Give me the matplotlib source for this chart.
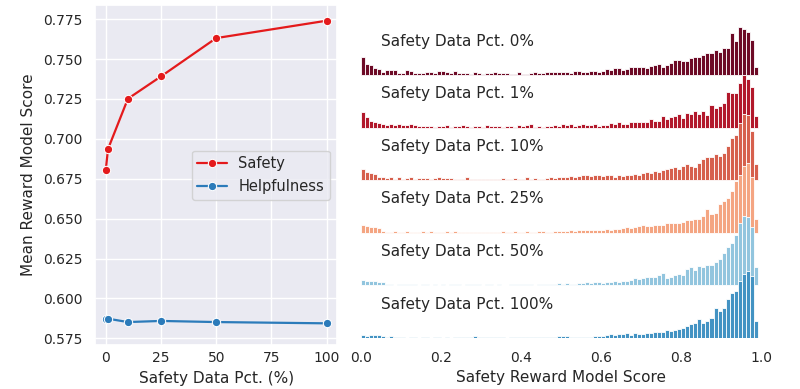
import numpy as np
import matplotlib
matplotlib.use("Agg")
import matplotlib.pyplot as plt
import seaborn as sns

# left panel: mean reward model score vs. amount of safety data
safety_pct = [0, 1, 10, 25, 50, 100]
safety_score = [0.6806, 0.6936, 0.7251, 0.7391, 0.7631, 0.7740]
helpful_score = [0.5873, 0.5873, 0.5852, 0.5859, 0.5852, 0.5844]

# right panel: histogram heights of safety RM score, bins of 0.01 from 0 to 0.99
row_labels = ["Safety Data Pct. 0%", "Safety Data Pct. 1%", "Safety Data Pct. 10%",
              "Safety Data Pct. 25%", "Safety Data Pct. 50%", "Safety Data Pct. 100%"]

hist_0 = [18, 11, 10, 7, 6, 3, 5, 5, 5, 2,
          2, 5, 4, 2, 2, 2, 3, 3, 2, 4,
          4, 3, 2, 4, 2, 2, 2, 1, 3, 2,
          1, 2, 2, 3, 2, 2, 2, 1, 1, 3,
          1, 1, 2, 3, 2, 2, 3, 3, 3, 3,
          3, 3, 2, 4, 4, 3, 3, 4, 4,
          3, 4, 6, 5, 7, 7, 5, 6, 8, 8,
          8, 8, 7, 9, 10, 11, 8, 10, 12, 15,
          15, 14, 14, 17, 18, 18, 20, 22, 22, 25,
          23, 27, 27, 42, 34, 48, 46, 43, 35, 8]
hist_1 = [16, 11, 7, 6, 5, 4, 3, 4, 3, 4,
          3, 3, 4, 3, 2, 2, 2, 2, 1, 2,
          2, 3, 1, 2, 2, 3, 2, 1, 2, 2,
          1, 3, 2, 2, 2, 1, 2, 2, 1, 3,
          2, 3, 4, 1, 2, 1, 2, 2,
          3, 2, 4, 3, 4, 2, 3, 4, 3, 3,
          4, 2, 3, 3, 5, 4, 6, 4, 4, 6,
          6, 6, 6, 6, 9, 7, 7, 12, 9, 11,
          12, 14, 10, 15, 14, 17, 14, 17, 13, 23,
          20, 22, 25,
          36, 35, 35, 45, 53, 49, 41, 12]
hist_10 = [11, 8, 7, 6, 3, 3, 2, 3, 1, 3,
           1, 2, 3, 1, 2, 2, 2, 1, 2, 3,
           2, 2, 2, 1, 1, 1, 3, 1, 1, 1,
           1, 1, 1, 1, 1, 2, 1, 1, 2, 1,
           1, 3, 1, 2, 1, 1, 2, 3, 2, 3,
           3, 3, 4, 3, 4, 5, 5, 4, 5, 5,
           4, 5, 5, 3, 5, 4, 5, 5, 6, 5,
           7, 8, 7, 9, 8, 10, 11, 12, 13, 11,
           14, 16, 14, 13, 17, 21, 23, 23, 26, 24,
           27, 34, 42, 45, 57, 66, 65, 49, 16]
hist_25 = [8, 7, 6, 6, 5, 2, 1, 1, 2, 1,
           1, 2, 1, 1, 1, 2, 1, 2, 1, 1,
           1, 2, 1, 2, 1, 0.5, 1, 1, 1, 0.5,
           1, 1, 1, 1, 1, 2, 1, 1, 2, 1,
           1, 2, 1, 1, 2, 2, 1, 1, 2, 2,
           2, 2, 3, 2, 3, 3, 3, 3, 3, 3,
           3, 4, 3, 4, 4, 5, 6, 5, 6, 7,
           8, 7, 7, 8, 8, 8, 10, 10, 10, 10,
           11, 13, 13, 14, 14, 17, 24, 19, 20, 29,
           32, 35, 42, 52, 58, 67, 70, 56, 14]
hist_50 = [5, 4, 4, 4, 3, 3, 1, 1, 0.5, 1,
           1, 1, 1, 1, 0.5, 1, 1, 0.5, 1, 0.5,
           1, 0.5, 1, 1, 1, 0.5, 1, 1, 1, 1,
           0.5, 1, 1, 0.5, 1, 0.5, 0.5, 1, 1, 1,
           1, 1, 1, 0.5, 1, 1, 1, 1, 1, 2,
           1, 2, 1, 1, 2, 2, 3, 2, 3, 3,
           2, 3, 3, 4, 3, 4, 4, 5, 7, 6,
           7, 8, 8, 8, 10, 12, 7, 8, 10, 11,
           10, 16, 18, 15, 19, 18, 20, 20, 23, 26,
           32, 38, 42, 50, 62, 69, 68, 58, 18]
hist_100 = [3, 2, 3, 3, 3, 2, 1, 2, 1, 1,
            1, 0.5, 1, 1, 0.5, 1, 1, 0.5, 1, 1,
            0.5, 1, 0.5, 1, 1, 1, 1, 1, 2, 1,
            1, 1, 1, 1, 1, 1, 0.5, 1, 1, 1,
            1, 1, 1, 1, 1, 1, 1, 1, 1, 2,
            2, 2, 1, 1, 1, 1, 1, 1, 2, 2,
            2, 3, 4, 3, 4, 4, 5, 3, 5, 4,
            4, 5, 5, 6, 6, 6, 8, 7, 8, 9,
            10, 12, 14, 15, 19, 15, 17, 20, 30, 27,
            30, 39, 45, 47, 57, 64, 67, 62, 17]
hists = [hist_0, hist_1, hist_10, hist_25, hist_50, hist_100]
row_colors = ["#6d0a26", "#b2182b", "#d6604d", "#f4a582", "#92c5de", "#4393c3"]

sns.set_theme(style="darkgrid")
plt.rcParams["font.family"] = ["DejaVu Sans"]
plt.rcParams.update({"font.size": 10, "axes.labelsize": 11, "xtick.labelsize": 10,
                     "ytick.labelsize": 10, "legend.fontsize": 10.5})

fig = plt.figure(figsize=(8, 3.89), dpi=100)

ax1 = fig.add_axes([0.119, 0.113, 0.3025, 0.874])
ax1.plot(safety_pct, safety_score, marker="o", color="#e41a1c", label="Safety",
         lw=1.6, ms=6, mec="white", mew=0.75)
ax1.plot(safety_pct, helpful_score, marker="o", color="#2b7bba", label="Helpfulness",
         lw=1.6, ms=6, mec="white", mew=0.75)
ax1.set_xlim(-4.8, 104.8)
ax1.set_ylim(0.5708, 0.7838)
ax1.set_xticks([0, 25, 50, 75, 100])
ax1.set_yticks(np.arange(0.575, 0.7751, 0.025))
ax1.yaxis.set_major_formatter(matplotlib.ticker.FormatStrFormatter("%.3f"))
ax1.tick_params(axis="y", length=0, pad=9)
ax1.tick_params(axis="x", length=0, pad=4.5)
ax1.set_xlabel("Safety Data Pct. (%)")
ax1.set_ylabel("Mean Reward Model Score", labelpad=5)
ax1.legend(loc="center right")

# ridge of histograms, one row per data mix, lower rows drawn on top
ax2 = fig.add_axes([0.451, 0.131, 0.501, 0.8175])
ax2.set_facecolor("white")
ax2.grid(False)
for s in ax2.spines.values():
    s.set_visible(False)
row_step = 52.6
bin_left = np.arange(len(hist_0)) * 0.01
for k, (h, lab, c) in enumerate(zip(hists, row_labels, row_colors)):
    base = (len(hists) - 1 - k) * row_step
    ax2.bar(bin_left, h, width=0.01, bottom=base, align="edge", color=c,
            edgecolor="white", linewidth=0.6, zorder=2 + k)
    ax2.text(0.05, base + 34, lab, va="center", ha="left", color=".15",
             fontsize=11, zorder=20)
ax2.set_xlim(0, 1)
ax2.set_ylim(0, 318)
ax2.set_yticks([])
ax2.set_xticks([0.0, 0.2, 0.4, 0.6, 0.8, 1.0])
ax2.xaxis.set_major_formatter(matplotlib.ticker.FormatStrFormatter("%.1f"))
ax2.tick_params(axis="x", length=0, pad=9)
ax2.set_xlabel("Safety Reward Model Score")

fig.savefig("out.png", dpi=100, facecolor="white")
